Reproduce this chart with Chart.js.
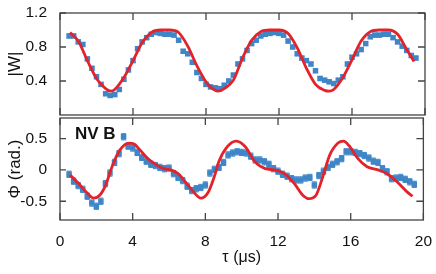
<!DOCTYPE html>
<html>
<head>
<meta charset="utf-8">
<script src="https://cdn.jsdelivr.net/npm/chart.js@4.4.0/dist/chart.umd.min.js"></script>
<style>
  html, body { margin: 0; padding: 0; background: #fff; }
  #wrap { position: relative; width: 436px; height: 274px; overflow: hidden; }
  #topChart { position: absolute; left: 0; top: 0; }
  #bottomChart { position: absolute; left: 0; top: 106px; }
  .tag { position: absolute; left: 75px; top: 125px; font: bold 17px "Liberation Sans", Arial, sans-serif; line-height: 17px; color: #111; }
</style>
</head>
<body>
<div id="wrap">
  <canvas id="topChart" width="436" height="124"></canvas>
  <canvas id="bottomChart" width="436" height="168"></canvas>
  <div class="tag">NV B</div>
</div>
<script>
// measured points, tau in µs
const tau = [
  0.5, 0.75, 1.0, 1.25, 1.5, 1.75, 2.0, 2.25,
  2.5, 2.75, 3.0, 3.25, 3.5, 3.75, 4.0, 4.25,
  4.5, 4.75, 5.0, 5.25, 5.5, 5.75, 6.0, 6.25,
  6.5, 6.75, 7.0, 7.25, 7.5, 7.75, 8.0, 8.25,
  8.5, 8.75, 9.0, 9.25, 9.5, 9.75, 10.0, 10.25,
  10.5, 10.75, 11.0, 11.25, 11.5, 11.75, 12.0, 12.25,
  12.5, 12.75, 13.0, 13.25, 13.5, 13.75, 14.0, 14.25,
  14.5, 14.75, 15.0, 15.25, 15.5, 15.75, 16.0, 16.25,
  16.5, 16.75, 17.0, 17.25, 17.5, 17.75, 18.0, 18.25,
  18.5, 18.75, 19.0, 19.25, 19.5
];
const wData = [
  0.93, 0.93, 0.86, 0.83, 0.66, 0.55, 0.45, 0.36,
  0.25, 0.23, 0.24, 0.30, 0.42, 0.53, 0.64, 0.78,
  0.86, 0.91, 0.95, 0.97, 0.96, 0.95, 0.95, 0.94,
  0.88, 0.75, 0.72, 0.62, 0.50, 0.43, 0.36, 0.33,
  0.32, 0.31, 0.35, 0.40, 0.47, 0.60, 0.66, 0.76,
  0.84, 0.88, 0.93, 0.95, 0.96, 0.97, 0.96, 0.94,
  0.87, 0.80, 0.72, 0.67, 0.64, 0.60, 0.52, 0.43,
  0.41, 0.39, 0.37, 0.41, 0.45, 0.60, 0.68, 0.72,
  0.77, 0.84, 0.92, 0.94, 0.94, 0.95, 0.95, 0.91,
  0.86, 0.81, 0.76, 0.70, 0.67
];
const phiData = [
  -0.07, -0.18, -0.25, -0.31, -0.42, -0.53, -0.58, -0.50,
  -0.22, -0.05, 0.12, 0.26, 0.53, 0.38, 0.35, 0.28,
  0.20, 0.14, 0.09, 0.07, 0.04, 0.02, 0.03, -0.06,
  -0.12, -0.17, -0.26, -0.33, -0.30, -0.28, -0.24, -0.05,
  0.01, 0.04, 0.12, 0.24, 0.27, 0.29, 0.28, 0.27,
  0.22, 0.16, 0.16, 0.13, 0.09, 0.02, -0.02, -0.07,
  -0.10, -0.14, -0.16, -0.16, -0.13, -0.12, -0.24, -0.09,
  -0.02, 0.04, 0.09, 0.13, 0.18, 0.29, 0.29, 0.28,
  0.26, 0.23, 0.19, 0.14, 0.12, 0.02, -0.03, -0.14,
  -0.13, -0.12, -0.15, -0.19, -0.23
];
const wErr = 0.02;
const phiErr = 0.05;

// fitted curves
const wFitT = [0.55, 1.0, 1.5, 2.0, 2.5, 2.8, 3.0, 3.5, 4.0, 4.5, 5.0, 5.5, 6.0, 6.5, 7.0, 7.5, 8.0, 8.5, 8.65, 9.0, 9.5,
  10.0, 10.5, 11.0, 11.5, 12.0, 12.5, 13.0, 13.5, 14.0, 14.5, 14.75, 15.0, 15.5, 16.0, 16.5, 17.0, 17.5, 18.0, 18.5, 19.0, 19.4];
const wFitV = [0.97, 0.87, 0.64, 0.43, 0.31, 0.28, 0.30, 0.44, 0.64, 0.85, 0.97, 1.0, 1.0, 0.97, 0.81, 0.58, 0.39, 0.29, 0.28, 0.31, 0.41,
  0.67, 0.88, 0.98, 1.0, 1.0, 0.96, 0.79, 0.55, 0.36, 0.29, 0.28, 0.30, 0.44, 0.65, 0.87, 0.98, 1.0, 1.0, 0.95, 0.77, 0.63];
const phiFitT = [0.55, 1.0, 1.5, 1.85, 2.2, 2.5, 2.9, 3.3, 3.8, 4.1, 4.4, 4.8, 5.3, 5.7, 6.1, 6.5, 6.9, 7.35, 7.75, 8.15, 8.5,
  8.75, 9.2, 9.7, 10.2, 10.7, 11.3, 11.8, 12.35, 12.9, 13.35, 13.7, 14.1, 14.45, 14.85, 15.3, 15.6, 15.9, 16.4, 16.9,
  17.5, 18.0, 18.55, 19.1, 19.4];
const phiFitV = [-0.08, -0.21, -0.37, -0.45, -0.40, -0.25, 0.08, 0.32, 0.43, 0.41, 0.32, 0.19, 0.08, 0.02, 0.0, -0.06, -0.19, -0.35, -0.45, -0.36, -0.10,
  0.14, 0.37, 0.46, 0.37, 0.14, 0.02, 0.0, -0.06, -0.22, -0.40, -0.46, -0.40, -0.12, 0.24, 0.43, 0.46, 0.39, 0.18, 0.05,
  0.0, -0.06, -0.19, -0.35, -0.42];

const xTicks = [0, 4, 8, 12, 16, 20];
const wTicks = [0.4, 0.8, 1.2];
const phiTicks = [-0.5, 0, 0.5];

const FONT = '"Liberation Sans", Arial, sans-serif';
Chart.defaults.font.family = FONT;
Chart.defaults.color = '#111';

const BLUE = '#3f86c8';
const RED = '#e3232b';

// error bars under the points
const errorBars = {
  id: 'errorBars',
  beforeDatasetsDraw(chart) {
    const { ctx, scales: { x, y } } = chart;
    ctx.save();
    ctx.strokeStyle = BLUE;
    ctx.lineWidth = 1;
    chart.data.datasets.forEach(ds => {
      if (!ds.err) return;
      ds.data.forEach(p => {
        const px = x.getPixelForValue(p.x);
        const y1 = y.getPixelForValue(p.y - ds.err);
        const y2 = y.getPixelForValue(p.y + ds.err);
        ctx.beginPath();
        ctx.moveTo(px, y1); ctx.lineTo(px, y2);
        ctx.moveTo(px - 2.5, y1); ctx.lineTo(px + 2.5, y1);
        ctx.moveTo(px - 2.5, y2); ctx.lineTo(px + 2.5, y2);
        ctx.stroke();
      });
    });
    ctx.restore();
  }
};

// box frame with inward ticks on all four sides
const frame = {
  id: 'frame',
  afterDraw(chart, args, opts) {
    const { ctx, chartArea: a, scales: { x, y } } = chart;
    ctx.save();
    ctx.strokeStyle = '#444';
    ctx.lineWidth = 1.3;
    ctx.strokeRect(a.left, a.top, a.right - a.left, a.bottom - a.top);
    ctx.beginPath();
    xTicks.forEach(v => {
      const px = x.getPixelForValue(v);
      ctx.moveTo(px, a.top); ctx.lineTo(px, a.top + 7);
      ctx.moveTo(px, a.bottom); ctx.lineTo(px, a.bottom - 7);
    });
    opts.yTicks.forEach(v => {
      const py = y.getPixelForValue(v);
      ctx.moveTo(a.left, py); ctx.lineTo(a.left + 6, py);
      ctx.moveTo(a.right, py); ctx.lineTo(a.right - 7, py);
    });
    ctx.stroke();
    ctx.restore();
  }
};

function yAxis(min, max, ticks, title) {
  return {
    min, max,
    afterBuildTicks: s => { s.ticks = ticks.map(v => ({ value: v })); },
    afterFit: s => { s.width = 60; s.paddingTop = 0; s.paddingBottom = 0; },
    grid: { display: false },
    border: { display: false },
    ticks: { padding: 5, font: { size: 15.5 }, color: '#111' },
    title: { display: true, text: title, font: { size: 17 }, color: '#111', padding: { top: 5, bottom: 0 } }
  };
}

function pts(ys) {
  return tau.map((t, i) => ({ x: t, y: ys[i] }));
}
function line(ts, vs) {
  return ts.map((t, i) => ({ x: t, y: vs[i] }));
}

function datasets(fit, data, err) {
  return [
    {
      type: 'line', data: fit, borderColor: RED, borderWidth: 2.8,
      pointRadius: 0, fill: false, cubicInterpolationMode: 'monotone'
    },
    {
      type: 'scatter', data, err, pointStyle: 'rect', pointRadius: 3.9,
      backgroundColor: BLUE, borderColor: BLUE, borderWidth: 0
    }
  ];
}

const common = {
  responsive: false,
  animation: false,
  events: [],
  plugins: { legend: { display: false }, tooltip: { enabled: false } }
};

new Chart(document.getElementById('topChart'), {
  type: 'scatter',
  data: { datasets: datasets(line(wFitT, wFitV), pts(wData), wErr) },
  options: {
    ...common,
    layout: { padding: { left: 0, right: 11, top: 13, bottom: 9 } },
    plugins: { ...common.plugins, frame: { yTicks: wTicks } },
    scales: {
      x: { type: 'linear', min: 0, max: 20, display: false },
      y: yAxis(0, 1.2, wTicks, '|W|')
    }
  },
  plugins: [errorBars, frame]
});

new Chart(document.getElementById('bottomChart'), {
  type: 'scatter',
  data: { datasets: datasets(line(phiFitT, phiFitV), pts(phiData), phiErr) },
  options: {
    ...common,
    layout: { padding: { left: 0, right: 11, top: 12, bottom: 0 } },
    plugins: { ...common.plugins, frame: { yTicks: phiTicks } },
    scales: {
      x: {
        type: 'linear', min: 0, max: 20,
        afterBuildTicks: s => { s.ticks = xTicks.map(v => ({ value: v })); },
        afterFit: s => { s.height = 54; },
        grid: { display: false },
        border: { display: false },
        ticks: { padding: 4, font: { size: 15.5 }, color: '#111', maxRotation: 0 },
        title: { display: true, text: 'τ (μs)', font: { size: 16 }, color: '#111', padding: { top: 0, bottom: 7 } }
      },
      y: yAxis(-0.8, 0.83, phiTicks, 'Φ (rad.)')
    }
  },
  plugins: [errorBars, frame]
});
</script>
</body>
</html>
